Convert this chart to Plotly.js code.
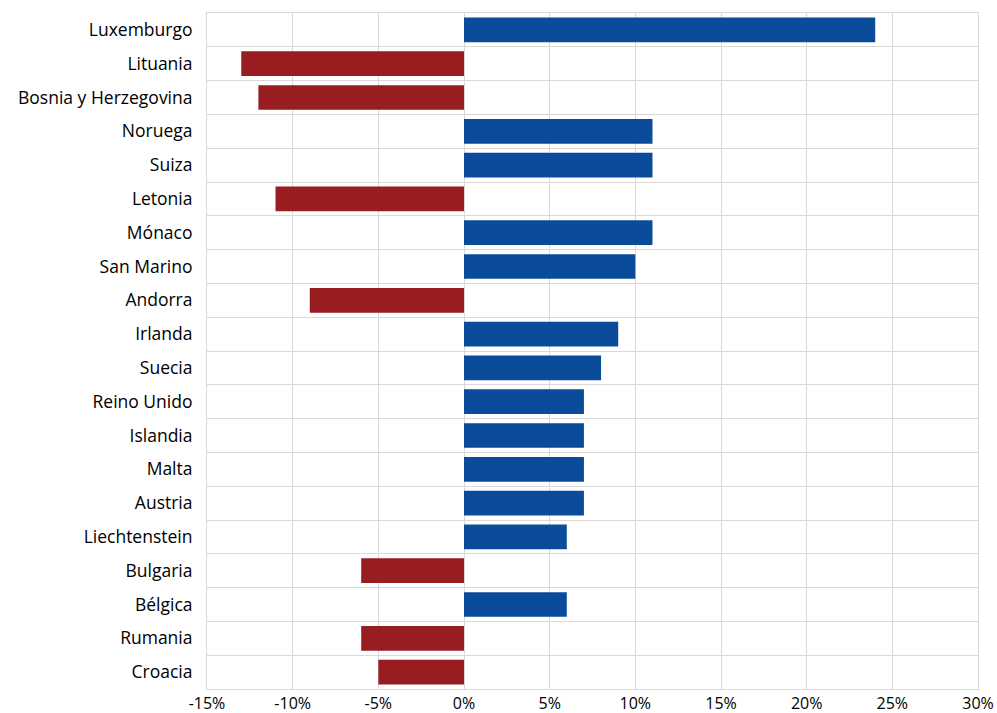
<!DOCTYPE html>
<html>
<head>
<meta charset="utf-8">
<script src="https://cdn.plot.ly/plotly-3.0.1.min.js"></script>
<style>html,body{margin:0;padding:0;background:#fff;}#chart{width:997px;height:713px;}</style>
</head>
<body>
<div id="chart"></div>
<script>
const countries = ["Luxemburgo","Lituania","Bosnia y Herzegovina","Noruega","Suiza","Letonia","Mónaco","San Marino","Andorra","Irlanda","Suecia","Reino Unido","Islandia","Malta","Austria","Liechtenstein","Bulgaria","Bélgica","Rumania","Croacia"];
const values = [24,-13,-12,11,11,-11,11,10,-9,9,8,7,7,7,7,6,-6,6,-6,-5];
const tickValues = [-15,-10,-5,0,5,10,15,20,25,30];
const tickLabels = ["-15%","-10%","-5%","0%","5%","10%","15%","20%","25%","30%"];
const posColor = "#0B4C9A", negColor = "#971D20";

const trace = {
  type: "bar",
  orientation: "h",
  y: countries,
  x: values,
  marker: {color: values.map(v => v < 0 ? negColor : posColor)},
  hoverinfo: "x+y"
};
const layout = {
  width: 997, height: 713,
  margin: {l: 207, r: 19, t: 13, b: 24},
  paper_bgcolor: "#fff", plot_bgcolor: "#fff",
  font: {family: "'Open Sans', Lato, sans-serif", size: 17, color: "#000"},
  bargap: 0.27,
  showlegend: false,
  xaxis: {
    range: [-15, 30],
    tickvals: tickValues, ticktext: tickLabels,
    showgrid: true, gridcolor: "#d9d9d9", gridwidth: 1,
    zeroline: false,
    showline: true, linecolor: "#d9d9d9", mirror: true,
    ticks: "", tickfont: {size: 16}, ticklabelstandoff: 0
  },
  yaxis: {
    type: "category",
    autorange: "reversed",
    tickson: "boundaries",
    showgrid: true, gridcolor: "#d9d9d9", gridwidth: 1,
    showline: true, linecolor: "#d9d9d9", mirror: true,
    ticks: "", ticklabelstandoff: 10, tickfont: {size: 17.5}
  }
};
Plotly.newPlot("chart", [trace], layout, {displayModeBar: false, staticPlot: true});
</script>
</body>
</html>
